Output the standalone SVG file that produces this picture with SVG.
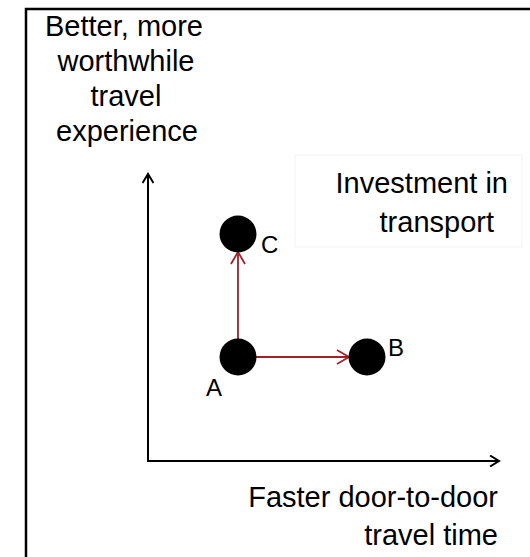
<svg xmlns="http://www.w3.org/2000/svg" width="530" height="557" viewBox="0 0 530 557">
<style>
text{font-family:"Liberation Sans",Arial,sans-serif;fill:#000}
.lbl{font-size:29px}
.pt{font-size:24px}
.axis{stroke:#000;stroke-width:2;fill:none}
.red{stroke:#a3202a;stroke-width:1.8;fill:none}
</style>
<defs>
<marker id="ah" markerWidth="12" markerHeight="12" refX="10" refY="6" orient="auto" markerUnits="userSpaceOnUse">
<path d="M1,0.5 L10,6 L1,11.5" fill="none" stroke="#000" stroke-width="2"/>
</marker>
<marker id="rh" markerWidth="20" markerHeight="16" refX="17" refY="8" orient="auto" markerUnits="userSpaceOnUse">
<path d="M5,1 L17,8 L5,15" fill="none" stroke="#a3202a" stroke-width="1.8"/>
</marker>
</defs>
<rect width="530" height="557" fill="#fff"/>
<path d="M26,557 V9 H530" fill="none" stroke="#000" stroke-width="2.5"/>
<g id="investment">
<rect x="295" y="155" width="227" height="92" fill="#fff" stroke="#f3f3f3" stroke-width="1"/>
<text class="lbl" x="508" y="193" text-anchor="end">Investment in</text>
<text class="lbl" x="494" y="232" text-anchor="end">transport</text>
</g>
<g id="y-label">
<text class="lbl" x="124" y="36" text-anchor="middle">Better, more</text>
<text class="lbl" x="126" y="71" text-anchor="middle">worthwhile</text>
<text class="lbl" x="126" y="106" text-anchor="middle">travel</text>
<text class="lbl" x="127" y="141" text-anchor="middle">experience</text>
</g>
<g id="x-label">
<text class="lbl" x="498" y="507" text-anchor="end">Faster door-to-door</text>
<text class="lbl" x="498" y="545" text-anchor="end">travel time</text>
</g>
<g id="connectors">
<line class="axis" x1="148" y1="462" x2="148" y2="174" marker-end="url(#ah)"/>
<line class="axis" x1="147" y1="461" x2="499" y2="461" marker-end="url(#ah)"/>
<line class="red" x1="238" y1="340" x2="238" y2="252" marker-end="url(#rh)"/>
<line class="red" x1="256" y1="357" x2="349" y2="357" marker-end="url(#rh)"/>
</g>
<g id="node-A">
<circle cx="238" cy="357" r="18.5" fill="#000"/>
<text class="pt" x="206" y="396">A</text>
</g>
<g id="node-B">
<circle cx="367" cy="357" r="18.5" fill="#000"/>
<text class="pt" x="388" y="356">B</text>
</g>
<g id="node-C">
<circle cx="238" cy="234" r="18.5" fill="#000"/>
<text class="pt" x="261" y="253">C</text>
</g>
</svg>
